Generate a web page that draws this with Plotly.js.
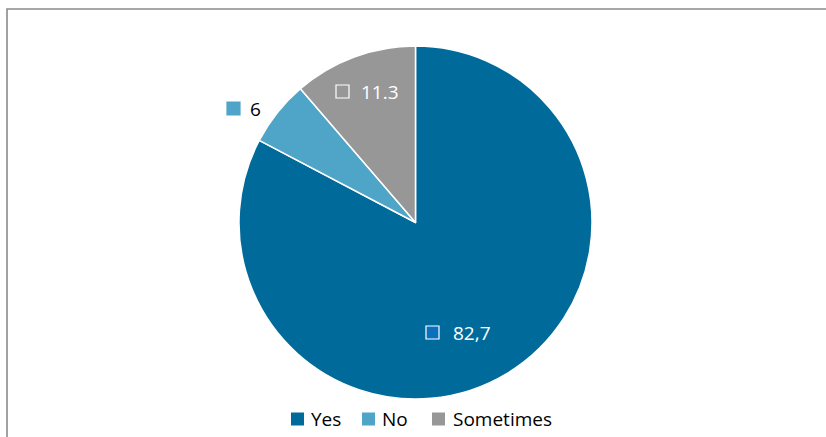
<!DOCTYPE html>
<html>
<head>
<meta charset="utf-8">
<script src="https://cdn.plot.ly/plotly-3.0.1.min.js"></script>
<style>html,body{margin:0;padding:0;background:#fff;}#chart{width:826px;height:437px;}</style>
</head>
<body>
<div id="chart"></div>
<script>
const categories = ["Yes", "No", "Sometimes"];
const values = [82.7, 6, 11.3];
const valueLabels = ["82,7", "6", "11.3"];
const colors = ["#006b9b", "#4fa5c8", "#979797"];

const W = 826, H = 437;
const px = x => x / W;
const py = y => 1 - y / H;
const FONT = "Open Sans, Noto Sans, sans-serif";

const trace = {
  type: "pie",
  labels: categories,
  values: values,
  sort: false,
  direction: "clockwise",
  rotation: 0,
  marker: {colors: colors, line: {color: "#ffffff", width: 1.5}},
  textinfo: "none",
  hoverinfo: "label+value",
  showlegend: false,
  domain: {x: [px(239), px(592)], y: [py(399), py(46)]}
};

// label placements (pixel positions of marker squares and text)
const labelPos = [
  {sq: [426, 326], tx: 451, ty: 333, color: "#ffffff", sqFill: "#0a70bd", sqLine: "#ffffff"},
  {sq: [227, 102], tx: 248, ty: 109, color: "#000000", sqFill: colors[1], sqLine: colors[1]},
  {sq: [336, 85],  tx: 359, ty: 92,  color: "#ffffff", sqFill: colors[2], sqLine: "#ffffff"}
];
// custom legend placements
const legendPos = [{sq: 291, tx: 309}, {sq: 362, tx: 380}, {sq: 432, tx: 451}];
const legendY = 419;

const shapes = [{
  type: "rect", xref: "paper", yref: "paper",
  x0: px(7), x1: 1.02, y0: -0.02, y1: py(9),
  line: {color: "#8a8a8a", width: 1.6}, fillcolor: "rgba(0,0,0,0)", layer: "below"
}];
const annotations = [];
labelPos.forEach((p, i) => {
  shapes.push({
    type: "rect", xref: "paper", yref: "paper",
    x0: px(p.sq[0]), x1: px(p.sq[0] + 13), y0: py(p.sq[1] + 13), y1: py(p.sq[1]),
    fillcolor: p.sqFill, line: {color: p.sqLine, width: 1.2}
  });
  annotations.push({
    xref: "paper", yref: "paper", x: px(p.tx), y: py(p.ty),
    xanchor: "left", yanchor: "middle", showarrow: false,
    text: valueLabels[i],
    font: {family: FONT, size: 19, color: p.color}
  });
});
categories.forEach((c, i) => {
  const p = legendPos[i];
  shapes.push({
    type: "rect", xref: "paper", yref: "paper",
    x0: px(p.sq), x1: px(p.sq + 13), y0: py(legendY + 6.5), y1: py(legendY - 6.5),
    fillcolor: colors[i], line: {width: 0}
  });
  annotations.push({
    xref: "paper", yref: "paper", x: px(p.tx), y: py(legendY),
    xanchor: "left", yanchor: "middle", showarrow: false,
    text: c, font: {family: FONT, size: 19, color: "#000000"}
  });
});

const layout = {
  width: W, height: H,
  margin: {l: 0, r: 0, t: 0, b: 0},
  paper_bgcolor: "#ffffff",
  showlegend: false,
  shapes: shapes,
  annotations: annotations
};

Plotly.newPlot("chart", [trace], layout, {displayModeBar: false, staticPlot: true});
</script>
</body>
</html>
